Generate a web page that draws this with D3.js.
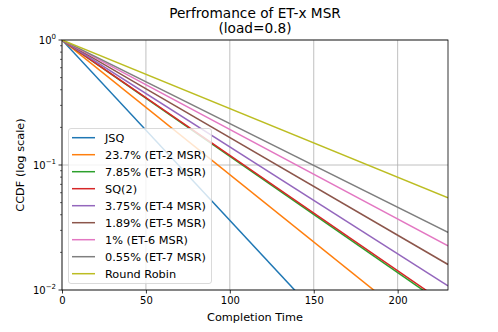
<!DOCTYPE html>
<html><head><meta charset="utf-8">
<script src="https://cdn.jsdelivr.net/npm/d3@7"></script>
<style>body{margin:0;background:#fff}svg{display:block;font-family:"DejaVu Sans",sans-serif}</style>
</head><body><svg id="c" width="498" height="332"></svg>
<script>
const seriesNames = ["JSQ","23.7% (ET-2 MSR)","7.85% (ET-3 MSR)","SQ(2)","3.75% (ET-4 MSR)","1.89% (ET-5 MSR)","1% (ET-6 MSR)","0.55% (ET-7 MSR)","Round Robin"];
const colors = ["#1f77b4","#ff7f0e","#2ca02c","#d62728","#9467bd","#8c564b","#e377c2","#7f7f7f","#bcbd22"];
const times = [0, 230];
const ccdfStart = [1,1,1,1,1,1,1,1,1];
const ccdfEnd = [0.00048,0.00333,0.00725,0.00754,0.0108,0.0160,0.0226,0.0289,0.0547];
const xTicks = [0,50,100,150,200];
const yTicks = [1e-2,1e-1,1];
const yTickExp = ["\u22122","\u22121","0"];

const svg = d3.select("#c");
const L=62,R=448,T=40,B=290;
const x = d3.scaleLinear().domain([0,230]).range([L,R]);
const y = d3.scaleLog().domain([1e-2,1]).range([B,T]);

svg.append("defs").append("clipPath").attr("id","clip").append("rect").attr("x",L).attr("y",T).attr("width",R-L).attr("height",B-T);

// grid
svg.append("g").selectAll("line").data(xTicks).join("line")
  .attr("x1",d=>x(d)).attr("x2",d=>x(d)).attr("y1",T).attr("y2",B)
  .attr("stroke","#b0b0b0").attr("stroke-width",0.8);
svg.append("g").selectAll("line").data(yTicks).join("line")
  .attr("y1",d=>y(d)).attr("y2",d=>y(d)).attr("x1",L).attr("x2",R)
  .attr("stroke","#b0b0b0").attr("stroke-width",0.8);

// lines
const line = d3.line().x(d=>x(d[0])).y(d=>y(d[1]));
const lg = svg.append("g").attr("clip-path","url(#clip)");
seriesNames.forEach((n,i)=>{
  lg.append("path").datum([[times[0],ccdfStart[i]],[times[1],ccdfEnd[i]]])
    .attr("d",line).attr("fill","none").attr("stroke",colors[i]).attr("stroke-width",1.5);
});

// axes
const xa = svg.append("g").attr("transform",`translate(0,${B})`)
  .call(d3.axisBottom(x).tickValues(xTicks).tickSize(3.5).tickPadding(3));
xa.select(".domain").remove();
xa.selectAll("text").attr("font-size",10).attr("fill","#000").attr("font-family","DejaVu Sans");
xa.selectAll("line").attr("stroke","#000").attr("stroke-width",0.8);

const minor=[];
[1e-2,1e-1].forEach(b=>{for(let k=2;k<=9;k++)minor.push(b*k);});
svg.append("g").selectAll("line").data(minor).join("line")
  .attr("x1",L-2).attr("x2",L).attr("y1",d=>y(d)).attr("y2",d=>y(d))
  .attr("stroke","#000").attr("stroke-width",0.6);
svg.append("g").selectAll("line").data(yTicks).join("line")
  .attr("x1",L-3.5).attr("x2",L).attr("y1",d=>y(d)).attr("y2",d=>y(d))
  .attr("stroke","#000").attr("stroke-width",0.8);
const yl = svg.append("g").selectAll("text").data(yTicks).join("text")
  .attr("x",L-6).attr("y",d=>y(d)+4).attr("text-anchor","end").attr("font-size",10);
yl.append("tspan").text("10");
yl.append("tspan").attr("dy",-5).attr("font-size",7).text((d,i)=>yTickExp[i]);

svg.append("rect").attr("x",L).attr("y",T).attr("width",R-L).attr("height",B-T)
  .attr("fill","none").attr("stroke","#000").attr("stroke-width",0.8);

// labels
svg.append("text").attr("x",(L+R)/2).attr("y",321).attr("text-anchor","middle").attr("font-size",11.3).text("Completion Time");
svg.append("text").attr("transform",`translate(24,${(T+B)/2}) rotate(-90)`).attr("text-anchor","middle").attr("font-size",11.3).text("CCDF (log scale)");
svg.append("text").attr("x",(L+R)/2).attr("y",17.5).attr("text-anchor","middle").attr("font-size",13.7).text("Perfromance of ET-x MSR");
svg.append("text").attr("x",(L+R)/2).attr("y",32.5).attr("text-anchor","middle").attr("font-size",13.7).text("(load=0.8)");

// legend
const lgd = svg.append("g");
lgd.append("rect").attr("x",68.5).attr("y",128.5).attr("width",143).attr("height",155).attr("rx",2.5)
  .attr("fill","#fff").attr("fill-opacity",0.8).attr("stroke","#d0d0d0").attr("stroke-width",0.8);
seriesNames.forEach((n,i)=>{
  const yy = 137.7 + i*17;
  lgd.append("line").attr("x1",72).attr("x2",95).attr("y1",yy).attr("y2",yy).attr("stroke",colors[i]).attr("stroke-width",1.5);
  lgd.append("text").attr("x",105).attr("y",yy+4).attr("font-size",11.3).text(n);
});
</script></body></html>
